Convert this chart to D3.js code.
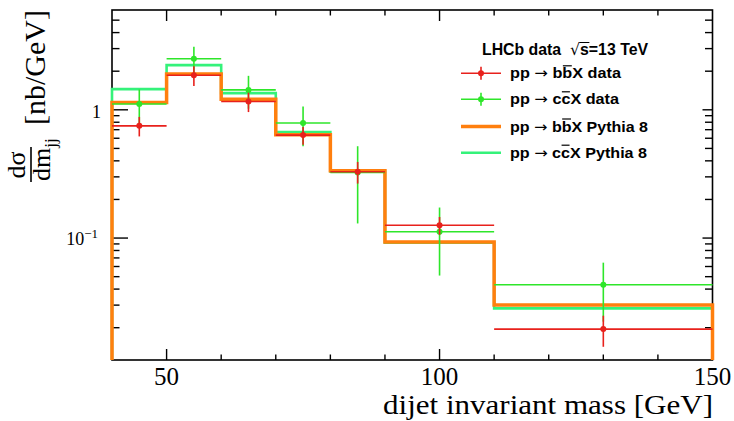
<!DOCTYPE html>
<html><head><meta charset="utf-8">
<script src="https://cdn.jsdelivr.net/npm/d3@7"></script>
<style>
html,body{margin:0;padding:0;background:#fff;}
svg{display:block;}
text{white-space:pre;}
</style></head>
<body>
<svg id="c" width="734" height="421"></svg>
<script>
// ---- data ----
const binEdges   = [40, 50, 60, 70, 80, 90, 110, 150];
const binCenters = [45, 55, 65, 75, 85, 100, 130];
const bbPythia   = [1.14, 1.90, 1.21, 0.64, 0.335, 0.093, 0.0301];
const ccPythia   = [1.45, 2.23, 1.35, 0.67, 0.330, 0.092, 0.0283];
const bbData     = [0.75, 1.86, 1.16, 0.635, 0.329, 0.126, 0.0195];
const bbErr      = [0.13, 0.33, 0.20, 0.10, 0.063, 0.020, 0.0053];
const ccData     = [1.11, 2.50, 1.43, 0.79, 0.325, 0.112, 0.0433];
const ccErr      = [0.33, 0.60, 0.41, 0.27, 0.195, 0.061, 0.021];
const xMajorTicks = [50, 100, 150];
const yMajorTicks = [0.1, 1];
const yTickLabels = ["10", "1"];
const xTitle = "dijet invariant mass [GeV]";
const yUnit = "[nb/GeV]";
const legendTitle = "LHCb data";
const legendEntries = [
  {pre:"pp ", arrow:"\u2192", q:"b", post:"X data", kind:"data", color:"#e8211c"},
  {pre:"pp ", arrow:"\u2192", q:"c", post:"X data", kind:"data", color:"#2ee62a"},
  {pre:"pp ", arrow:"\u2192", q:"b", post:"X Pythia 8", kind:"line", color:"#ff7f0e", w:3.5},
  {pre:"pp ", arrow:"\u2192", q:"c", post:"X Pythia 8", kind:"line", color:"#34f27a", w:2.6}
];

const C = {red:"#e8211c", green:"#2ee62a", orange:"#ff7f0e", spring:"#34f27a"};
const L = 112, R = 712.5, T = 10, B = 360;
const svg = d3.select("#c");
const x = d3.scaleLinear().domain([40,150]).range([L,R]);
const y = d3.scaleLog().domain([0.0112, 6.0]).range([B,T]);

// ---- axes (frame + ticks) ----
const axes = svg.append("g").attr("stroke","#000").attr("stroke-width",1.4);
const xMinor = d3.range(50,150,10);
xMinor.forEach(v=>{
  const big = xMajorTicks.includes(v);
  const len = big ? 11 : 5.5;
  axes.append("line").attr("x1",x(v)).attr("x2",x(v)).attr("y1",B).attr("y2",B-len);
  axes.append("line").attr("x1",x(v)).attr("x2",x(v)).attr("y1",T).attr("y2",T+len);
});
const yTicksAll = [];
[0.01,0.1,1].forEach(d=>{ for(let k=1;k<10;k++){ const v=d*k; if(v>0.0112 && v<6.0) yTicksAll.push(v);} });
yTicksAll.forEach(v=>{
  const big = yMajorTicks.some(m=>Math.abs(m-v)<1e-9);
  axes.append("line").attr("x1",L).attr("x2",L+(big?16:7.5)).attr("y1",y(v)).attr("y2",y(v));
  axes.append("line").attr("x1",R).attr("x2",R-(big?10:7.5)).attr("y1",y(v)).attr("y2",y(v));
});
svg.append("rect").attr("x",L).attr("y",T).attr("width",R-L).attr("height",B-T)
  .attr("fill","none").attr("stroke","#000").attr("stroke-width",1.6);

// ---- histograms ----
function stepPath(vals){
  const p = d3.path();
  p.moveTo(x(binEdges[0]), B);
  vals.forEach((v,i)=>{ p.lineTo(x(binEdges[i]), y(v)); p.lineTo(x(binEdges[i+1]), y(v)); });
  p.lineTo(x(binEdges[binEdges.length-1]), B);
  return p.toString();
}
const plot = svg.append("g");
plot.append("path").attr("d", stepPath(ccPythia)).attr("fill","none")
  .attr("stroke",C.spring).attr("stroke-width",2.6);
plot.append("path").attr("d", stepPath(bbPythia)).attr("fill","none")
  .attr("stroke",C.orange).attr("stroke-width",3.5);

function drawData(vals, errs, color){
  const g = plot.append("g");
  vals.forEach((v,i)=>{
    g.append("line").attr("x1",x(binEdges[i])).attr("x2",x(binEdges[i+1]))
      .attr("y1",y(v)).attr("y2",y(v)).attr("stroke",color).attr("stroke-width",1.6);
    g.append("line").attr("x1",x(binCenters[i])).attr("x2",x(binCenters[i]))
      .attr("y1",y(Math.max(v-errs[i],0.0112))).attr("y2",y(v+errs[i]))
      .attr("stroke",color).attr("stroke-width",1.6);
    g.append("circle").attr("cx",x(binCenters[i])).attr("cy",y(v)).attr("r",3)
      .attr("fill",color);
  });
}
drawData(ccData, ccErr, C.green);
drawData(bbData, bbErr, C.red);

const serif = "'Liberation Serif','Times New Roman',serif";
const sans = "'Liberation Sans',Arial,sans-serif";
// x tick labels
xMajorTicks.forEach(v=>{
  svg.append("text").attr("x",x(v)).attr("y",384.5).attr("text-anchor","middle")
    .attr("font-family",serif).attr("font-size",25).text(v);
});
// y tick labels
svg.append("text").attr("x",101).attr("y",118).attr("text-anchor","end")
  .attr("font-family",serif).attr("font-size",18).text(yTickLabels[1]);
const t2 = svg.append("text").attr("x",98).attr("y",245).attr("text-anchor","end")
  .attr("font-family",serif).attr("font-size",18);
t2.append("tspan").text(yTickLabels[0]);
t2.append("tspan").attr("dy",-7).attr("font-size",13).text("\u22121");

// x title
svg.append("text").attr("x",713).attr("y",413.5).attr("text-anchor","end")
  .attr("font-family",serif).attr("font-size",26.5)
  .attr("textLength",330).attr("lengthAdjust","spacingAndGlyphs").text(xTitle);

// y title (rotated)
svg.append("text").attr("transform","translate(45,10) rotate(-90)").attr("text-anchor","end")
  .attr("font-family",serif).attr("font-size",30).text(yUnit);
svg.append("text").attr("transform","translate(25,165) rotate(-90)").attr("text-anchor","middle")
  .attr("font-family",serif).attr("font-size",26).text("d\u03c3");
svg.append("line").attr("x1",31).attr("x2",31).attr("y1",147).attr("y2",182)
  .attr("stroke","#000").attr("stroke-width",1.6);
const den = svg.append("text").attr("transform","translate(50,181) rotate(-90)")
  .attr("font-family",serif).attr("font-size",26);
den.append("tspan").text("dm");
den.append("tspan").attr("dy",6).attr("font-size",17).text("jj");

// ---- legend ----
const lg = svg.append("g");
const tt = lg.append("text").attr("x",482).attr("y",55).attr("font-family",sans)
  .attr("font-weight","bold").attr("font-size",16)
  .attr("textLength",166).attr("lengthAdjust","spacingAndGlyphs");
const preTitle = legendTitle + "  ";
tt.append("tspan").text(preTitle);
tt.append("tspan").attr("font-family","'DejaVu Sans',sans-serif").attr("font-weight","normal").text("\u221a");
tt.append("tspan").text("s=13 TeV");
{
  const txt = tt.node();
  const idx = preTitle.length + 1;
  const st = txt.getStartPositionOfChar(idx), en = txt.getEndPositionOfChar(idx);
  lg.append("line").attr("x1",st.x-0.5).attr("x2",en.x+0.5).attr("y1",42.5).attr("y2",42.5)
    .attr("stroke","#000").attr("stroke-width",1);
}
const rowY = [73.3, 99.3, 126.5, 152.7];
const rowEnd = [621, 619, 648, 647];
legendEntries.forEach((e,i)=>{
  const cy = rowY[i];
  if(e.kind==="data"){
    lg.append("line").attr("x1",461).attr("x2",501).attr("y1",cy).attr("y2",cy)
      .attr("stroke",e.color).attr("stroke-width",1.6);
    lg.append("line").attr("x1",481).attr("x2",481).attr("y1",cy-6.5).attr("y2",cy+6.5)
      .attr("stroke",e.color).attr("stroke-width",1.6);
    lg.append("circle").attr("cx",481).attr("cy",cy).attr("r",3).attr("fill",e.color);
  } else {
    lg.append("line").attr("x1",461).attr("x2",501).attr("y1",cy).attr("y2",cy)
      .attr("stroke",e.color).attr("stroke-width",e.w);
  }
  const t = lg.append("text").attr("x",510).attr("y",cy+5).attr("font-family",sans)
    .attr("font-weight","bold").attr("font-size",14.5)
    .attr("textLength",rowEnd[i]-510).attr("lengthAdjust","spacingAndGlyphs");
  t.append("tspan").text(e.pre);
  t.append("tspan").attr("font-family","'DejaVu Sans',sans-serif").attr("font-weight","normal")
    .text(e.arrow);
  t.append("tspan").text(" " + e.q + e.q + e.post);
  const node = t.node();
  const k = (e.pre + e.arrow + " " + e.q).length; // index of the anti-quark
  const st = node.getStartPositionOfChar(k), en = node.getEndPositionOfChar(k);
  lg.append("line").attr("x1",st.x+0.5).attr("x2",en.x-0.5).attr("y1",cy-7.5).attr("y2",cy-7.5)
    .attr("stroke","#000").attr("stroke-width",1.2);
});
</script>
</body></html>
